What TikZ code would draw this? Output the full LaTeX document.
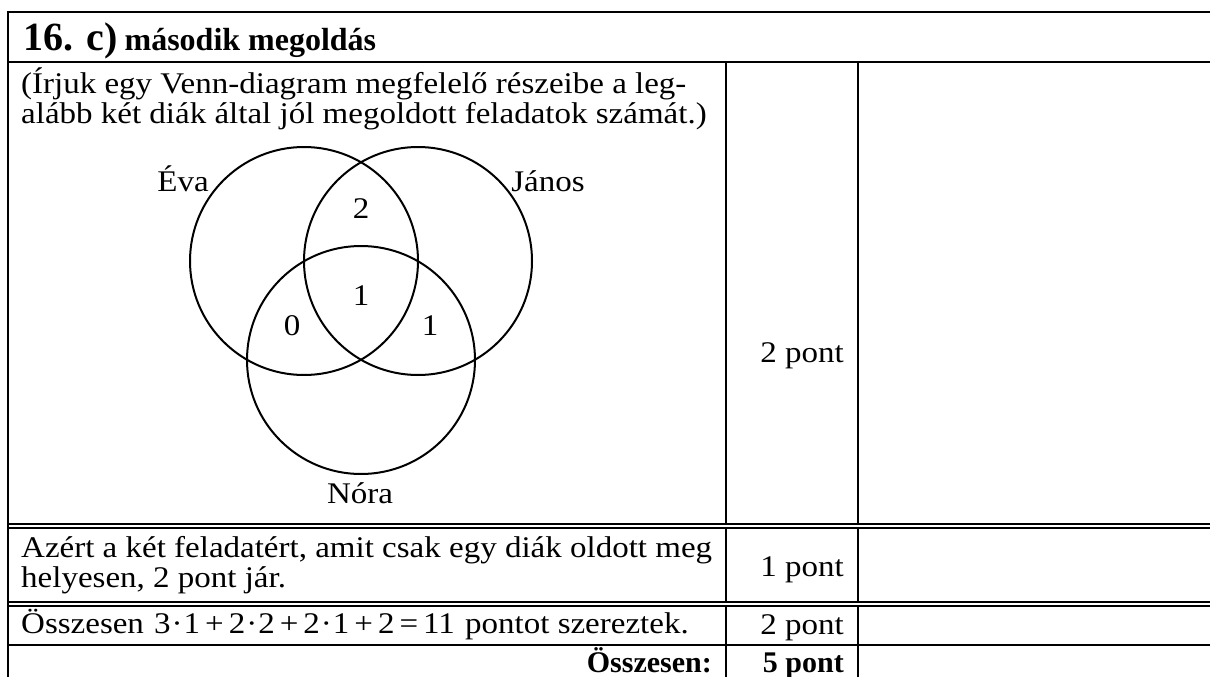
\documentclass[tikz,border=0pt]{standalone}
\usepackage{fontspec}
\setmainfont{Liberation Serif}
\newfontfamily\bodyfont[FakeStretch=1.1]{Liberation Serif}
\begin{document}
\begin{tikzpicture}[x=1pt,y=-1pt,
  rule/.style={line width=2pt},
  thin rule/.style={line width=1.6pt},
  body/.style={inner sep=0pt,font=\bodyfont\fontsize{30}{30}\selectfont},
  bbody/.style={inner sep=0pt,font=\fontsize{30}{30}\selectfont\bfseries},
  venn/.style={circle,draw,line width=2pt,minimum size=228pt,inner sep=0pt}]
\useasboundingbox (0,0) rectangle (1210,677);
% table rules
\draw[rule] (8,12) -- (1212,12);
\draw[rule] (8,62) -- (1212,62);
\draw[rule] (8,11) -- (8,679);
\draw[thin rule] (7,524) -- (1212,524);
\draw[thin rule] (7,528) -- (1212,528);
\draw[thin rule] (7,602) -- (1212,602);
\draw[thin rule] (7,606) -- (1212,606);
\draw[rule] (8,645) -- (1212,645);
\draw[rule] (726,62) -- (726,524);
\draw[rule] (726,528) -- (726,602);
\draw[rule] (726,606) -- (726,679);
\draw[rule] (858,62) -- (858,524);
\draw[rule] (858,528) -- (858,602);
\draw[rule] (858,606) -- (858,679);
% header
\node[inner sep=0pt,anchor=base west] (hd) at (23,51)
  {\fontsize{40}{44}\selectfont\bfseries 16. c)\hspace{7pt}\fontsize{32}{34}\selectfont második megoldás};
% row 1 text
\node[body,anchor=base west] (t1) at (21,93) {(Írjuk egy Venn-diagram megfelelő részeibe a leg-};
\node[body,anchor=base west] (t2) at (21,123) {alább két diák által jól megoldott feladatok számát.)};
\node[body,anchor=base east] (p1) at (844,362) {2 pont};
% venn
\node[venn] (eva) at (304,261) {};
\node[venn] (janos) at (418,261) {};
\node[venn] (nora) at (361,360) {};
\node[body,anchor=base] (leva) at (183,191) {Éva};
\node[body,anchor=base] (ljanos) at (548,191) {János};
\node[body,anchor=base] (lnora) at (360,503) {Nóra};
\node[body,anchor=base] (n2) at (361,218) {2};
\node[body,anchor=base] (n1) at (361,305) {1};
\node[body,anchor=base] (n0) at (292,335) {0};
\node[body,anchor=base] (n1b) at (430,335) {1};
% row 2
\node[body,anchor=base west] (a1) at (21,557) {Azért a két feladatért, amit csak egy diák oldott meg};
\node[body,anchor=base west] (a2) at (21,587) {helyesen, 2 pont jár.};
\node[body,anchor=base east] (p2) at (844,576) {1 pont};
% row 3
\node[body,anchor=base west] (s1) at (21,633) {Összesen\ {\kern2pt}3{\kern1pt}·{\kern1pt}1\,+\,2{\kern1pt}·{\kern1pt}2\,+\,2{\kern1pt}·{\kern1pt}1\,+\,2\,=\,11\ {\kern2pt}pontot szereztek.};
\node[body,anchor=base east] (p3) at (844,634) {2 pont};
% row 4
\node[bbody,anchor=base east] (tot) at (712,672) {Összesen:};
\node[bbody,anchor=base east] (p4) at (844,672) {5 pont};
\end{tikzpicture}
\end{document}
